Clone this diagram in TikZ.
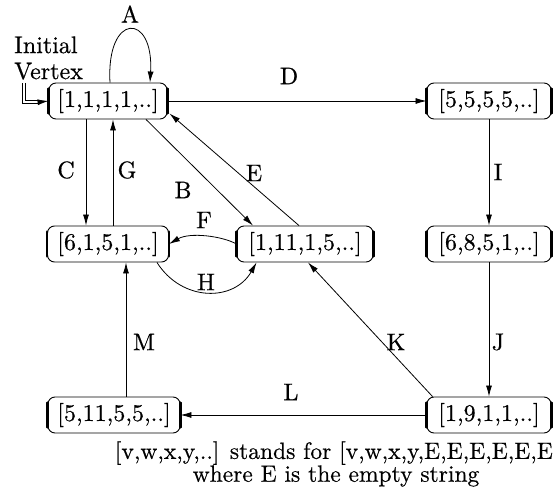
\documentclass[tikz,border=0pt]{standalone}
\usepackage{fontspec}
\setmainfont{lmroman10-regular.otf}[FakeBold=0.5]
\usetikzlibrary{arrows.meta,calc}
\begin{document}
\begin{tikzpicture}[x=1pt,y=-1pt,
  state/.style={draw,line width=0.9pt,rounded corners=7pt,minimum height=36pt,inner sep=0pt,font=\fontsize{24}{26}\selectfont},
  side/.style={line width=2.2pt,line cap=round},
  arr/.style={line width=0.8pt,-{Latex[length=11pt,width=6pt]}},
  lbl/.style={font=\fontsize{24}{26}\selectfont,inner sep=0pt}]
\useasboundingbox (0,0) rectangle (555,503);
\node[state,minimum width=118pt] (n1) at (108,101) {[1,1,1,1,..]};
\node[state,minimum width=124pt] (n2) at (489,101) {[5,5,5,5,..]};
\node[state,minimum width=121pt] (n3) at (108,244) {[6,1,5,1,..]};
\node[state,minimum width=136pt] (n4) at (305,244) {[1,11,1,5,..]};
\node[state,minimum width=124pt] (n5) at (489,244) {[6,8,5,1,..]};
\node[state,minimum width=132pt] (n6) at (114,415) {[5,11,5,5,..]};
\node[state,minimum width=124pt] (n7) at (489,415) {[1,9,1,1,..]};
\foreach \n in {n1,n2,n3,n4,n5,n6,n7}{
  \draw[side] ([yshift=-6pt]\n.north west) -- ([yshift=6pt]\n.south west);
  \draw[side] ([yshift=-6pt]\n.north east) -- ([yshift=6pt]\n.south east);
}
% initial vertex
\node[lbl,anchor=west,align=left] (iv) at (14,58) {Initial\\Vertex};
\coordinate (ivs) at (24,83);
\coordinate (ivc) at (40,102);
\draw[double distance=2pt,line width=0.8pt] (ivs) |- (ivc);
\draw[arr] (ivc) -- (n1.west);
% A loop
\draw[arr] ($(n1.north)+(2,0)$) .. controls (106,12) and (154,12) .. ($(n1.north)+(42,0)$);
\node[lbl] (la) at (130,14) {A};
% D
\draw[arr] (n1.east) -- (n2.west);
\node[lbl] (ld) at (289,76) {D};
% C and G
\draw[arr] ($(n1.south)+(-22,0)$) -- ($(n3.north)+(-22,0)$);
\node[lbl] (lc) at (66,170) {C};
\draw[arr] ($(n3.north)+(5,0)$) -- ($(n1.south)+(5,0)$);
\node[lbl] (lg) at (127,170) {G};
% B
\draw[arr] ($(n1.south)+(38,0)$) -- ($(n4.north)+(-52,0)$);
\node[lbl] (lb) at (183,190) {B};
% E
\draw[arr] ($(n4.north)+(-6,0)$) -- ($(n1.south east)+(2,-6)$);
\node[lbl] (le) at (254,173) {E};
% I, J
\draw[arr] (n2.south) -- (n5.north);
\node[lbl] (li) at (498,172) {I};
\draw[arr] (n5.south) -- (n7.north);
\node[lbl] (lj) at (498,342) {J};
% F, H
\draw[arr] (n4.west) .. controls (222,236) and (190,232) .. (n3.east);
\node[lbl] (lf) at (204,220) {F};
\draw[arr] ($(n3.south east)+(-12,0)$) .. controls (182,302) and (234,302) .. ($(n4.south west)+(20,0)$);
\node[lbl] (lh) at (206,282) {H};
% K
\draw[arr] ($(n7.north west)+(6,0)$) -- ($(n4.south)+(3,0)$);
\node[lbl] (lk) at (396,342) {K};
% M
\draw[arr] ($(n6.north)+(12,0)$) -- ($(n3.south)+(18,0)$);
\node[lbl] (lm) at (144,342) {M};
% L
\draw[arr] (n7.west) -- (n6.east);
\node[lbl] (ll) at (291,392) {L};
% legend
\node[lbl,anchor=east,font=\fontsize{23.5}{26}\selectfont] (lg1) at (553,453) {[v,w,x,y,..] stands for [v,w,x,y,E,E,E,E,E,E};
\node[lbl,font=\fontsize{23.5}{26}\selectfont] (lg2) at (336,476) {where E is the empty string};
\end{tikzpicture}
\end{document}
